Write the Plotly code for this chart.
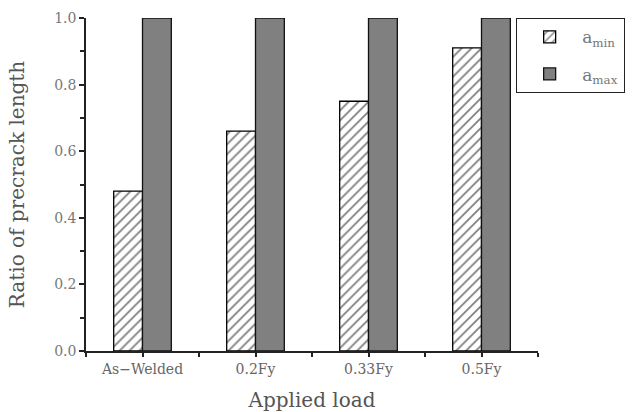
import plotly.graph_objects as go

categories = ["As−Welded", "0.2Fy", "0.33Fy", "0.5Fy"]
a_min = [0.48, 0.66, 0.75, 0.91]
a_max = [1.0, 1.0, 1.0, 1.0]
y_ticks = [0.0, 0.2, 0.4, 0.6, 0.8, 1.0]
y_tick_labels = ["0.0", "0.2", "0.4", "0.6", "0.8", "1.0"]

FONT = "DejaVu Serif"
x_idx = list(range(len(categories)))

fig = go.Figure()
fig.add_trace(go.Bar(
    x=x_idx, y=a_min, name="a<sub>min</sub>", legendgroup="min",
    marker=dict(color="white", line=dict(color="black", width=1.3),
                pattern=dict(shape="/", fgcolor="black", bgcolor="white", size=7, solidity=0.25)),
))
fig.add_trace(go.Bar(
    x=x_idx, y=a_max, name="a<sub>max</sub>", legendgroup="max",
    marker=dict(color="#808080", line=dict(color="#111111", width=1.3)),
))

fig.update_layout(
    width=638, height=412,
    margin=dict(l=86, r=100, t=18, b=61, autoexpand=False),
    paper_bgcolor="white", plot_bgcolor="white",
    barmode="group", bargap=0.49, bargroupgap=0,
    font=dict(family=FONT, color="#555555", size=13),
    showlegend=True,
    legend=dict(x=0.951, y=1.0, xanchor="left", yanchor="top",
                bordercolor="#222222", borderwidth=1.3, bgcolor="white",
                itemwidth=55, font=dict(size=17, color="#777777"),
                tracegroupgap=12),
    xaxis=dict(
        range=[-0.5, 3.5], tickmode="array", tickvals=x_idx, ticktext=categories,
        showline=True, linecolor="#222222", linewidth=1.5, showgrid=False, zeroline=False,
        ticks="outside", ticklen=4, tickcolor="#222222", tickwidth=1.5,
        tickfont=dict(size=14, color="#666666"),
        minor=dict(tickvals=[-0.5, 0.5, 1.5, 2.5, 3.5], ticks="outside", ticklen=4, tickcolor="#222222"),
        title=dict(text="Applied load", font=dict(size=20, color="#555555"), standoff=34),
    ),
    yaxis=dict(
        range=[0, 1.0], tickmode="array", tickvals=y_ticks, ticktext=y_tick_labels,
        showline=True, linecolor="#222222", linewidth=1.5, showgrid=False, zeroline=False,
        ticks="outside", ticklen=5, tickcolor="#222222", tickwidth=1.5,
        tickfont=dict(size=14, color="#777777"),
        minor=dict(dtick=0.1, ticks="outside", ticklen=4, tickcolor="#222222"),
        title=dict(text="Ratio of precrack length", font=dict(size=20, color="#555555"), standoff=24),
    ),
)

fig.write_html("out.html")
